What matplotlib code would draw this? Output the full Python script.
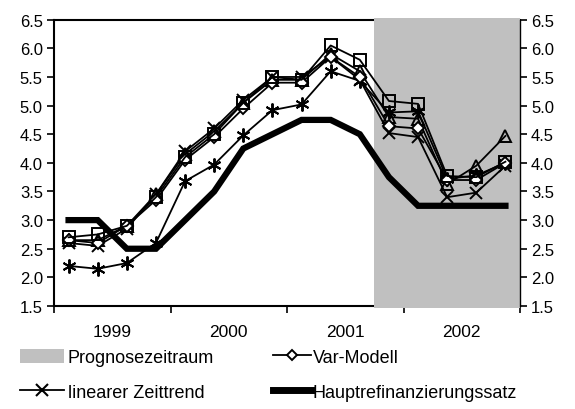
import matplotlib
matplotlib.use("Agg")
import matplotlib.pyplot as plt
import matplotlib.transforms as mtransforms
from matplotlib.patches import Rectangle, Patch
from matplotlib.lines import Line2D

plt.rcParams['font.family'] = ['Liberation Sans', 'DejaVu Sans']

years = ["1999", "2000", "2001", "2002"]
quarters = list(range(16))
forecast_start = 11
y_ticks = [1.5, 2.0, 2.5, 3.0, 3.5, 4.0, 4.5, 5.0, 5.5, 6.0, 6.5]

hauptref = [3.0, 3.0, 2.5, 2.5, 3.0, 3.5, 4.25, 4.5, 4.75, 4.75, 4.5, 3.75, 3.25, 3.25, 3.25, 3.25]
squares = [2.7, 2.75, 2.9, 3.4, 4.1, 4.5, 5.05, 5.5, 5.45, 6.05, 5.8, 5.08, 5.03, 3.77, 3.75, 4.02]
triangles = [2.65, 2.65, 2.9, 3.45, 4.15, 4.55, 5.05, 5.45, 5.45, 5.9, 5.6, 4.8, 4.77, 3.63, 3.95, 4.47]
var_modell = [2.65, 2.6, 2.9, 3.35, 4.05, 4.45, 4.95, 5.4, 5.4, 5.85, 5.5, 4.64, 4.6, 3.7, 3.7, 4.0]
lin_trend = [2.6, 2.55, 2.85, 3.45, 4.2, 4.6, 5.1, 5.5, 5.5, 5.85, 5.45, 4.52, 4.45, 3.4, 3.48, 3.95]
asterisk = [2.2, 2.15, 2.25, 2.6, 3.68, 3.97, 4.48, 4.92, 5.02, 5.6, 5.43, 4.88, 4.9, 3.72, 3.78, 4.0]

fig = plt.figure(figsize=(5.75, 4.1), dpi=100)
ax = fig.add_axes([54/575, 1-307/410, (520-54)/575, (307-20.7)/410])

trans = mtransforms.blended_transform_factory(ax.transData, ax.transAxes)
ax.add_patch(Rectangle((forecast_start - 0.5, -0.006), 16 - forecast_start, 1.012,
                       transform=trans, facecolor='#C0C0C0', edgecolor='none',
                       zorder=2.6, clip_on=False))

lw = 1.3
ax.plot(quarters, hauptref, color='black', lw=4.5, zorder=3, solid_joinstyle='miter')
ax.plot(quarters, asterisk, color='black', lw=lw, marker=(6, 2, 0), ms=10, mew=1.4, zorder=4)
ax.plot(quarters, lin_trend, color='black', lw=lw, marker='x', ms=8, mew=1.4, zorder=4)
ax.plot(quarters, triangles, color='black', lw=lw, marker='^', ms=9, mew=1.4,
        mfc='none', zorder=4)
ax.plot(quarters, var_modell, color='black', lw=lw, marker='D', ms=6, mew=1.4,
        mfc='white', zorder=4)
ax.plot(quarters, squares, color='black', lw=lw, marker='s', ms=9, mew=1.4,
        mfc='none', zorder=4)

ax.set_xlim(-0.5, 15.5)
ax.set_ylim(1.5, 6.5)
ax.set_yticks(y_ticks)
ax.set_yticklabels([f"{v:.1f}" for v in y_ticks])
ax.tick_params(axis='y', direction='out', length=5, width=1.2, labelsize=12,
               left=True, right=True, labelleft=True, labelright=True, pad=3)

ax.set_xticks([-0.5, 3.5, 7.5, 11.5, 15.5])
ax.set_xticklabels([])
ax.set_xticks([1.5, 5.5, 9.5, 13.5], minor=True)
ax.set_xticklabels(years, minor=True)
ax.tick_params(axis='x', which='major', direction='out', length=5, width=1.2)
ax.tick_params(axis='x', which='minor', length=0, labelsize=12.5, pad=13)

for s in ax.spines.values():
    s.set_linewidth(1.5)
    s.set_color('black')
ax.spines['right'].set_zorder(2.7)
ax.spines['right'].set_linewidth(1.0)

col1_handles = [
    Patch(facecolor='#C0C0C0', edgecolor='none'),
    Line2D([], [], color='black', lw=1.3, marker='x', ms=9, mew=1.5),
]
col1_labels = ["Prognosezeitraum", "linearer Zeittrend"]
col2_handles = [
    Line2D([], [], color='black', lw=1.3, marker='D', ms=5, mfc='white', mew=1.4),
    Line2D([], [], color='black', lw=5),
]
col2_labels = ["Var-Modell", "Hauptrefinanzierungssatz"]

common = dict(frameon=False, fontsize=13, handleheight=0.85, labelspacing=0.95,
              borderaxespad=0, borderpad=0, loc='center left')
fig.legend(col1_handles, col1_labels, bbox_to_anchor=(20/575, 0.084),
           handlelength=2.45, handletextpad=0.2, **common)
fig.legend(col2_handles, col2_labels, bbox_to_anchor=(273/575, 0.084),
           handlelength=2.1, handletextpad=0.1, **common)

fig.savefig("out.png", dpi=100)
